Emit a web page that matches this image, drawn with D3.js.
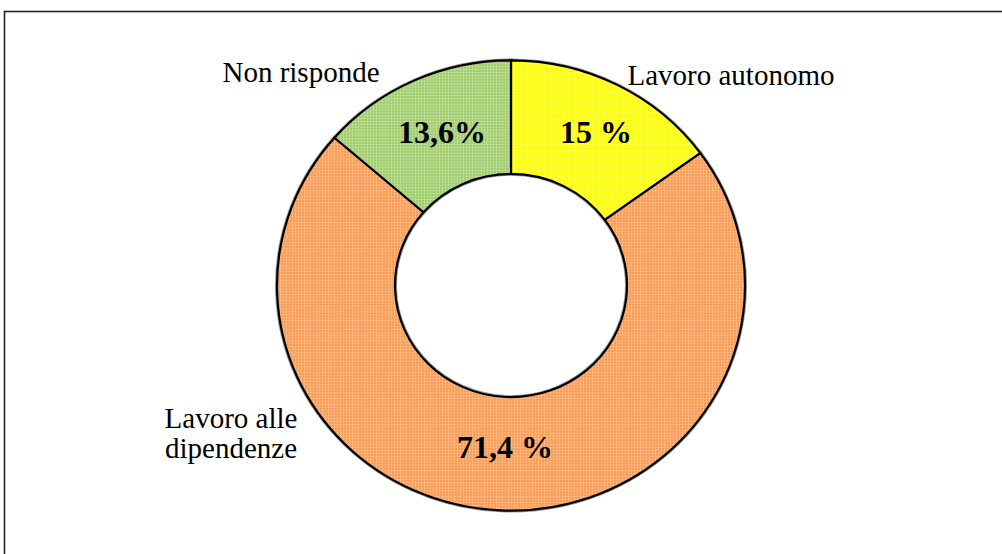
<!DOCTYPE html>
<html>
<head>
<meta charset="utf-8">
<script src="https://cdn.jsdelivr.net/npm/d3@7"></script>
<style>
  body { margin: 0; background: #fff; }
  svg { display: block; }
</style>
</head>
<body>
<svg id="chart" width="1002" height="554"></svg>
<script>
// data
var categories = ["Lavoro autonomo", "Lavoro alle dipendenze", "Non risponde"];
var values = [15, 71.4, 13.6];
var valueLabels = ["15 %", "71,4 %", "13,6%"];
var colors = ["#ffff00", "#f99b52", "#9fcd6a"];

var serif = "Liberation Serif";

var svg = d3.select("#chart");

// frame (cut by the page at right/bottom)
svg.append("rect")
  .attr("x", 4.5).attr("y", 11.5)
  .attr("width", 1100).attr("height", 600)
  .attr("fill", "none").attr("stroke", "#222").attr("stroke-width", 1.6);

// fine grid texture like the original office fills
var defs = svg.append("defs");
colors.forEach(function(c, i) {
  var p = defs.append("pattern")
    .attr("id", "pat" + i)
    .attr("width", 3).attr("height", 3)
    .attr("patternUnits", "userSpaceOnUse");
  p.append("rect").attr("width", 3).attr("height", 3).attr("fill", c);
  p.append("rect").attr("width", 3).attr("height", 1).attr("fill", "#fff").attr("opacity", 0.22);
  p.append("rect").attr("width", 1).attr("height", 3).attr("fill", "#fff").attr("opacity", 0.22);
});

var cx = 511, cy = 285.5;
var rOuter = 234, rInner = 116;
var sy = 0.962;

var pie = d3.pie().sort(null).value(function(d) { return d; });
var arcs = pie(values);
var arc = d3.arc().innerRadius(rInner).outerRadius(rOuter);

var g = svg.append("g")
  .attr("transform", "translate(" + cx + "," + cy + ") scale(1," + sy + ")");

// soft grey shadow under outlines
g.selectAll("path.sh")
  .data(arcs)
  .enter().append("path")
  .attr("class", "sh")
  .attr("d", arc)
  .attr("fill", "none")
  .attr("stroke", "#999")
  .attr("stroke-width", 4);

g.selectAll("path.sl")
  .data(arcs)
  .enter().append("path")
  .attr("class", "sl")
  .attr("d", arc)
  .attr("fill", function(d, i) { return "url(#pat" + i + ")"; })
  .attr("stroke", "#000")
  .attr("stroke-width", 2.2)
  .attr("stroke-linejoin", "round");

// percent labels inside the ring
var valuePos = [[596, 143], [505, 458], [442, 143]];
svg.selectAll("text.val")
  .data(valueLabels)
  .enter().append("text")
  .attr("class", "val")
  .attr("x", function(d, i) { return valuePos[i][0]; })
  .attr("y", function(d, i) { return valuePos[i][1]; })
  .attr("text-anchor", "middle")
  .attr("font-family", serif)
  .attr("font-size", 32)
  .attr("font-weight", "bold")
  .text(function(d) { return d; });

// category labels outside (two-line label as separate texts)
var catLines = [["Lavoro autonomo"], ["Lavoro alle", "dipendenze"], ["Non risponde"]];
var catPos = [[731, 85], [231, 428], [301, 82]];
catLines.forEach(function(lines, i) {
  lines.forEach(function(l, j) {
    svg.append("text")
      .attr("x", catPos[i][0])
      .attr("y", catPos[i][1] + j * 30)
      .attr("text-anchor", "middle")
      .attr("font-family", serif)
      .attr("font-size", 29)
      .text(l);
  });
});
</script>
</body>
</html>
